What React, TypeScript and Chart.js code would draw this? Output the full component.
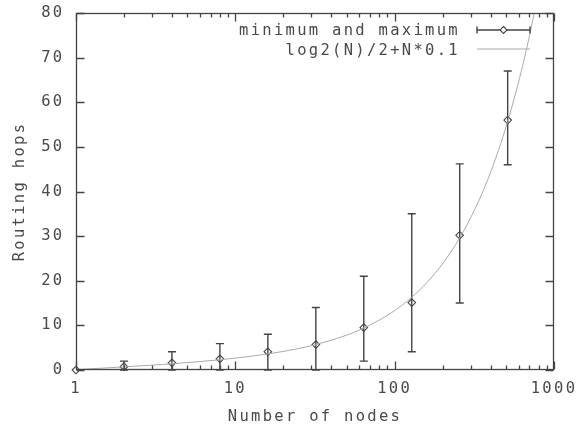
import { useEffect, useRef } from "react";
import { Chart, registerables } from "chart.js";

Chart.register(...registerables);

// ---- data ----
const nodeCounts = [1, 2, 4, 8, 16, 32, 64, 128, 256, 512];
const avgHops = [0, 0.75, 1.6, 2.5, 4.1, 5.7, 9.5, 15.1, 30.2, 56];
const minHops = [0, 0, 0, 0, 0, 0, 2, 4.1, 15, 46];
const maxHops = [0, 2, 4.1, 5.9, 8, 14, 21, 35, 46.2, 67];

const curveNodes = [1, 1.5, 2, 3, 4, 6, 8, 12, 16, 24, 32, 48, 64, 96, 128, 160, 192, 224, 256, 320, 384, 448, 512, 576, 640, 704, 768];
const curveHops = [0.1, 0.44, 0.7, 1.09, 1.4, 1.89, 2.3, 2.99, 3.6, 4.69, 5.7, 7.59, 9.4, 12.89, 16.3, 19.66, 22.99, 26.3, 29.6, 36.16, 42.69, 49.2, 55.7, 62.19, 68.66, 75.13, 81.59];

const xMajorTicks = [1, 10, 100, 1000];
const xMinorTicks = [2, 3, 4, 5, 6, 7, 8, 9, 20, 30, 40, 50, 60, 70, 80, 90, 200, 300, 400, 500, 600, 700, 800, 900];
const yTicks = [0, 10, 20, 30, 40, 50, 60, 70, 80];

const seriesLabels = ["minimum and maximum", "log2(N)/2+N*0.1"];
const xTitle = "Number of nodes";
const yTitle = "Routing hops";

// ---- styles ----
const FAMILY = '"DejaVu Sans Mono", monospace';
const FSIZE = 15.5;
const SPACING = "2.3px";
const TEXT = "#4a4a4a";
const AXIS = "#444";
const CURVE = "#aaa";

function drawDiamond(ctx: CanvasRenderingContext2D, x: number, y: number, r: number) {
  ctx.beginPath();
  ctx.moveTo(x, y - r);
  ctx.lineTo(x + r, y);
  ctx.lineTo(x, y + r);
  ctx.lineTo(x - r, y);
  ctx.closePath();
  ctx.stroke();
}

const gnuplotPlugin = {
  id: "gnuplotLook",
  beforeUpdate(chart: any) {
    chart.ctx.letterSpacing = SPACING;
  },
  beforeDraw(chart: any) {
    chart.ctx.letterSpacing = SPACING;
  },
  beforeDatasetsDraw(chart: any) {
    const { ctx, scales } = chart;
    const x = scales.x;
    const y = scales.y;
    ctx.save();
    ctx.strokeStyle = AXIS;
    ctx.lineWidth = 1.4;
    nodeCounts.forEach((n, i) => {
      if (maxHops[i] <= minHops[i]) return;
      const px = x.getPixelForValue(n);
      const y1 = y.getPixelForValue(minHops[i]);
      const y2 = y.getPixelForValue(maxHops[i]);
      ctx.beginPath();
      ctx.moveTo(px, y1);
      ctx.lineTo(px, y2);
      ctx.moveTo(px - 4, y1);
      ctx.lineTo(px + 4, y1);
      ctx.moveTo(px - 4, y2);
      ctx.lineTo(px + 4, y2);
      ctx.stroke();
    });
    ctx.restore();
  },
  afterDraw(chart: any) {
    const { ctx, scales, chartArea } = chart;
    const x = scales.x;
    const y = scales.y;
    const L = Math.round(chartArea.left) + 0.5;
    const R = Math.round(chartArea.right) - 0.5;
    const T = Math.round(chartArea.top) + 0.5;
    const B = Math.round(chartArea.bottom) - 0.5;
    ctx.save();
    ctx.strokeStyle = AXIS;
    ctx.lineWidth = 1.3;
    ctx.strokeRect(L, T, R - L, B - T);
    ctx.beginPath();
    const major = 8;
    const minor = 4;
    xMajorTicks.forEach((v) => {
      const px = Math.round(x.getPixelForValue(v)) + 0.5;
      ctx.moveTo(px, B);
      ctx.lineTo(px, B - major);
      ctx.moveTo(px, T);
      ctx.lineTo(px, T + major);
    });
    xMinorTicks.forEach((v) => {
      const px = Math.round(x.getPixelForValue(v)) + 0.5;
      ctx.moveTo(px, B);
      ctx.lineTo(px, B - minor);
      ctx.moveTo(px, T);
      ctx.lineTo(px, T + minor);
    });
    yTicks.forEach((v) => {
      const py = Math.round(y.getPixelForValue(v)) + 0.5;
      ctx.moveTo(L, py);
      ctx.lineTo(L + major, py);
      ctx.moveTo(R, py);
      ctx.lineTo(R - major, py);
    });
    ctx.stroke();

    // legend (key), gnuplot style at top right
    ctx.letterSpacing = SPACING;
    ctx.font = `${FSIZE}px ${FAMILY}`;
    ctx.fillStyle = TEXT;
    ctx.textAlign = "right";
    ctx.textBaseline = "middle";
    const textRight = 460;
    const s0 = 477;
    const s1 = 530;
    const row1 = 30;
    const row2 = 49;
    ctx.fillText(seriesLabels[0], textRight, row1 + 1);
    ctx.fillText(seriesLabels[1], textRight, row2 + 2);

    ctx.strokeStyle = AXIS;
    ctx.lineWidth = 1.4;
    ctx.beginPath();
    ctx.moveTo(s0, row1);
    ctx.lineTo(s1, row1);
    ctx.moveTo(s0, row1 - 3.5);
    ctx.lineTo(s0, row1 + 3.5);
    ctx.moveTo(s1, row1 - 3.5);
    ctx.lineTo(s1, row1 + 3.5);
    ctx.stroke();
    const cx = (s0 + s1) / 2;
    ctx.fillStyle = "#fff";
    ctx.beginPath();
    ctx.moveTo(cx, row1 - 3.5);
    ctx.lineTo(cx + 3.5, row1);
    ctx.lineTo(cx, row1 + 3.5);
    ctx.lineTo(cx - 3.5, row1);
    ctx.closePath();
    ctx.fill();
    ctx.lineWidth = 1.1;
    drawDiamond(ctx, cx, row1, 3.5);

    ctx.strokeStyle = CURVE;
    ctx.lineWidth = 1;
    ctx.beginPath();
    ctx.moveTo(s0, row2);
    ctx.lineTo(s1, row2);
    ctx.stroke();
    ctx.restore();
  },
};

export default function App() {
  const ref = useRef<HTMLCanvasElement | null>(null);

  useEffect(() => {
    document.body.style.margin = "0";
    document.body.style.background = "#fff";
    const canvas = ref.current;
    if (!canvas) return;
    const font = { family: FAMILY, size: FSIZE };

    const chart = new Chart(canvas, {
      type: "line",
      data: {
        datasets: [
          {
            label: seriesLabels[1],
            data: curveNodes.map((n, i) => ({ x: n, y: curveHops[i] })),
            borderColor: CURVE,
            borderWidth: 1,
            pointRadius: 0,
            cubicInterpolationMode: "monotone",
            fill: false,
          },
          {
            label: seriesLabels[0],
            data: nodeCounts.map((n, i) => ({ x: n, y: avgHops[i] })),
            showLine: false,
            pointStyle: "rectRot",
            pointRadius: 3.8,
            pointBorderColor: AXIS,
            pointBackgroundColor: "rgba(255,255,255,0)",
            pointBorderWidth: 1.1,
            clip: false,
          },
        ],
      } as any,
      options: {
        responsive: false,
        animation: false,
        devicePixelRatio: 1,
        layout: { padding: { top: 13, right: 28, left: 0, bottom: 0 } },
        plugins: { legend: { display: false }, tooltip: { enabled: false } },
        scales: {
          x: {
            type: "logarithmic",
            min: 1,
            max: 1000,
            afterBuildTicks: (s: any) => {
              s.ticks = xMajorTicks.map((v) => ({ value: v }));
            },
            afterFit: (s: any) => {
              s.height = 58;
              s.paddingLeft = 0;
              s.paddingRight = 0;
            },
            ticks: {
              callback: (v: any) => String(v),
              padding: 10,
              color: TEXT,
              font,
              maxRotation: 0,
              autoSkip: false,
            },
            grid: { display: false, drawTicks: false, tickLength: 0 },
            border: { display: false },
            title: {
              display: true,
              text: xTitle,
              color: TEXT,
              font,
              padding: { top: 0, bottom: 1.5 },
            },
          },
          y: {
            type: "linear",
            min: 0,
            max: 80,
            afterBuildTicks: (s: any) => {
              s.ticks = yTicks.map((v) => ({ value: v }));
            },
            afterFit: (s: any) => {
              s.width = 76;
              s.paddingTop = 0;
              s.paddingBottom = 0;
            },
            ticks: { padding: 11.5, color: TEXT, font },
            grid: { display: false, drawTicks: false, tickLength: 0 },
            border: { display: false },
            title: {
              display: true,
              text: yTitle,
              color: TEXT,
              font,
              padding: { top: 10.5, bottom: 0 },
            },
          },
        },
      } as any,
      plugins: [gnuplotPlugin],
    });
    return () => chart.destroy();
  }, []);

  return <canvas ref={ref} width={582} height={428} style={{ display: "block" }} />;
}
